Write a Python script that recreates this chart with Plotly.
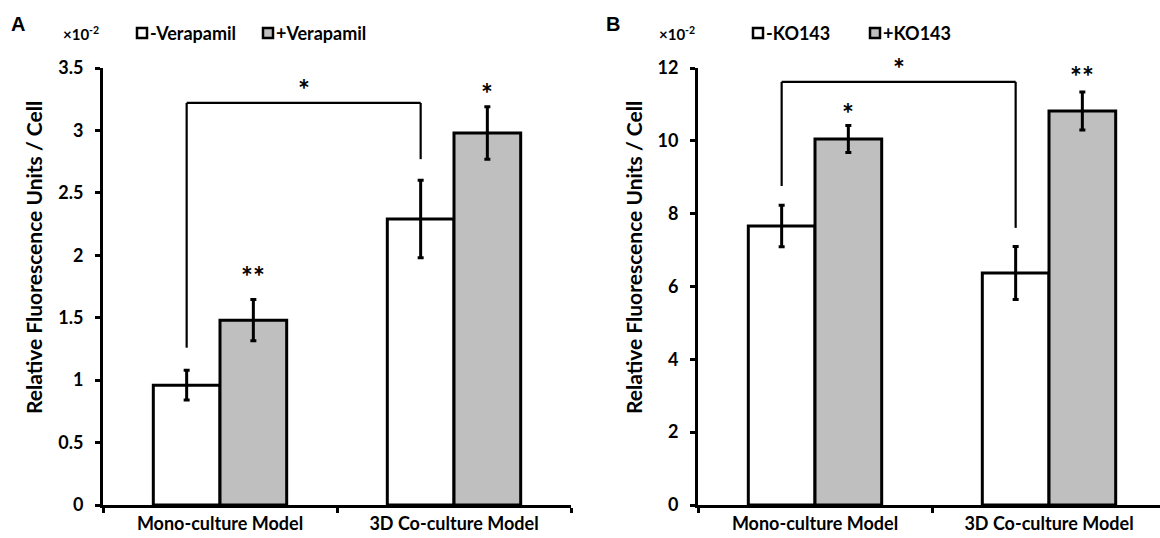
import plotly.graph_objects as go

# ---------------- data ----------------
categories = ["Mono-culture Model", "3D Co-culture Model"]

a_series = ["-Verapamil", "+Verapamil"]
a_minus = [0.96, 2.29]
a_minus_err = [0.12, 0.31]
a_plus = [1.48, 2.98]
a_plus_err = [0.165, 0.21]
a_ticks = [0, 0.5, 1, 1.5, 2, 2.5, 3, 3.5]
a_plus_sig = ["**", "*"]
a_plus_sig_y = [1.86, 3.32]
a_bracket = {"top": 3.22, "left_bottom": 1.26, "right_bottom": 2.77, "label": "*"}

b_series = ["-KO143", "+KO143"]
b_minus = [7.66, 6.37]
b_minus_err = [0.57, 0.73]
b_plus = [10.05, 10.82]
b_plus_err = [0.37, 0.52]
b_ticks = [0, 2, 4, 6, 8, 10, 12]
b_plus_sig = ["*", "**"]
b_plus_sig_y = [10.85, 11.86]
b_bracket = {"top": 11.62, "left_bottom": 8.76, "right_bottom": 7.61, "label": "*"}

y_title = "Relative Fluorescence Units / Cell"
scale_text = "×10<sup>-2</sup>"

# ---------------- styling ----------------
W, H = 1160, 538
FONT = "Lato"
WHITE = "#FFFFFF"
GRAY = "#BFBFBF"
BAR_GAP = 0.43
BAR_W = (1 - BAR_GAP) / 2


def px(x):
    return x / W


def py(y):
    return 1 - y / H


def bfont(size, family=FONT):
    return dict(family=family, size=size, color="black", weight="bold")


fig = go.Figure()

panels = [
    dict(xa="x", ya="y", names=a_series, minus=a_minus, minus_err=a_minus_err,
         plus=a_plus, plus_err=a_plus_err, sig=a_plus_sig, sig_y=a_plus_sig_y, bracket=a_bracket),
    dict(xa="x2", ya="y2", names=b_series, minus=b_minus, minus_err=b_minus_err,
         plus=b_plus, plus_err=b_plus_err, sig=b_plus_sig, sig_y=b_plus_sig_y, bracket=b_bracket),
]

annotations = []
shapes = []

for p in panels:
    for vals, errs, name, color in [(p["minus"], p["minus_err"], p["names"][0], WHITE),
                                    (p["plus"], p["plus_err"], p["names"][1], GRAY)]:
        fig.add_trace(go.Bar(
            x=categories, y=vals, name=name, xaxis=p["xa"], yaxis=p["ya"],
            marker=dict(color=color, line=dict(color="black", width=3)),
            error_y=dict(type="data", array=errs, visible=True,
                         color="black", thickness=3, width=3),
            showlegend=False, hoverinfo="skip",
        ))
    # significance stars above "+" bars
    for i, (s, sy) in enumerate(zip(p["sig"], p["sig_y"])):
        annotations.append(dict(
            x=i + BAR_W / 2, y=sy,
            xref=p["xa"], yref=p["ya"], text=s, showarrow=False,
            yanchor="middle", yshift=-3,
            font=bfont(28),
        ))
    # bracket between "-" bars
    br = p["bracket"]
    xl = 0 - BAR_W / 2
    xr = 1 - BAR_W / 2
    for (x0, y0, x1, y1) in [(xl, br["left_bottom"], xl, br["top"]),
                             (xl, br["top"], xr, br["top"]),
                             (xr, br["top"], xr, br["right_bottom"])]:
        shapes.append(dict(type="line", xref=p["xa"], yref=p["ya"],
                           x0=x0, y0=y0, x1=x1, y1=y1,
                           line=dict(color="black", width=2.2)))
    annotations.append(dict(
        x=(xl + xr) / 2, y=br["top"], xref=p["xa"], yref=p["ya"],
        text=br["label"], showarrow=False, yanchor="middle", yshift=14,
        font=bfont(28),
    ))

# legends (manual)
legend_layout = [
    (a_series, [137, 263]),
    (b_series, [753, 870]),
]
for names, xs in legend_layout:
    for name, x0, color in zip(names, xs, [WHITE, GRAY]):
        shapes.append(dict(type="rect", xref="paper", yref="paper",
                           x0=px(x0), x1=px(x0 + 10), y0=py(38), y1=py(28),
                           line=dict(color="black", width=2.5), fillcolor=color))
        annotations.append(dict(x=px(x0 + 11), y=py(33), xref="paper", yref="paper",
                                text=name, showarrow=False, xanchor="left", yanchor="middle",
                                font=bfont(18)))

# panel letters, scale text, y titles
for letter, lx, sx, tx in [("A", 18, 81, 33), ("B", 613, 677, 633)]:
    annotations.append(dict(x=px(lx), y=py(24), xref="paper", yref="paper", text=letter,
                            showarrow=False, xanchor="center", yanchor="middle",
                            font=bfont(20, "Liberation Sans")))
    annotations.append(dict(x=px(sx), y=py(34), xref="paper", yref="paper", text=scale_text,
                            showarrow=False, xanchor="center", yanchor="middle",
                            font=bfont(15)))
    annotations.append(dict(x=px(tx), y=py(258), xref="paper", yref="paper", text=y_title,
                            showarrow=False, xanchor="center", yanchor="middle", textangle=-90,
                            font=bfont(21)))

axis_common = dict(showline=True, linecolor="black", linewidth=3, ticks="outside",
                   ticklen=5, tickwidth=3, tickcolor="black", showgrid=False, zeroline=False,
                   tickfont=bfont(18))

fig.update_layout(
    width=W, height=H, margin=dict(l=0, r=0, t=0, b=0, autoexpand=False),
    paper_bgcolor="white", plot_bgcolor="white",
    barmode="group", bargap=BAR_GAP, bargroupgap=0,
    font=dict(family=FONT, color="black"),
    hovermode=False,
    xaxis=dict(domain=[px(103), px(571)], anchor="y", type="category",
               range=[-0.5, 1.5], tickson="boundaries", **axis_common),
    yaxis=dict(domain=[py(505), py(68)], anchor="x", range=[0, 3.5],
               tickvals=a_ticks, ticklabelstandoff=8, **axis_common),
    xaxis2=dict(domain=[px(698), 1.0], anchor="y2", type="category",
                range=[-0.5, -0.5 + (W - 698) / 234], tickson="boundaries", **axis_common),
    yaxis2=dict(domain=[py(505), py(68)], anchor="x2", range=[0, 12],
                tickvals=b_ticks, ticklabelstandoff=8, **axis_common),
    annotations=annotations,
    shapes=shapes,
)

fig.write_html("out.html", config={"displayModeBar": False},
               post_script="document.body.style.margin='0';document.body.style.overflow='hidden';")
